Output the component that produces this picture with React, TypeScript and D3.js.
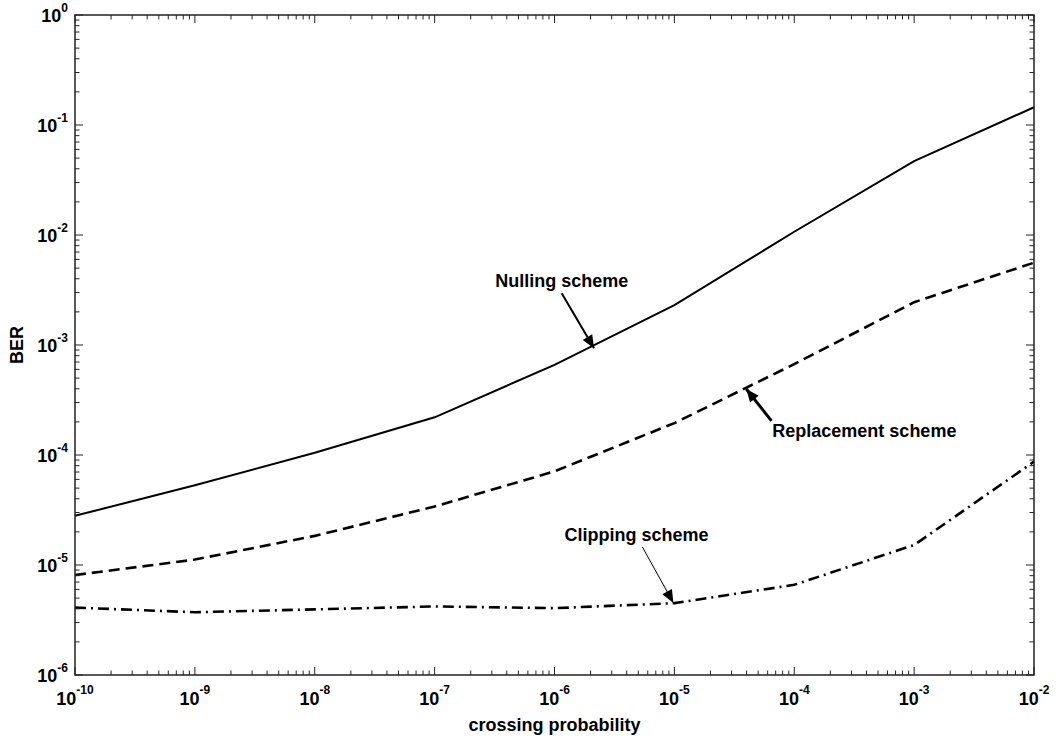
import React from "react";
import * as d3 from "d3";

// crossing probability (x) and BER for each scheme
const crossingProb = [1e-10, 1e-9, 1e-8, 1e-7, 1e-6, 1e-5, 1e-4, 1e-3, 1e-2];
const nulling = [2.8e-5, 5.3e-5, 1.05e-4, 2.2e-4, 6.6e-4, 2.3e-3, 1.07e-2, 4.7e-2, 1.45e-1];
const replacement = [8.1e-6, 1.12e-5, 1.84e-5, 3.4e-5, 7.1e-5, 1.95e-4, 6.7e-4, 2.45e-3, 5.6e-3];
const clipping = [4.1e-6, 3.72e-6, 3.95e-6, 4.2e-6, 4.05e-6, 4.5e-6, 6.6e-6, 1.52e-5, 8.7e-5];

const xExps = [-10, -9, -8, -7, -6, -5, -4, -3, -2];
const yExps = [0, -1, -2, -3, -4, -5, -6];

// annotations, positions given as log10 exponents
const notes = [
  { label: "Nulling scheme", anchor: "middle", tx: -5.94, ty: -2.47, fx: -5.94, fy: -2.53, px: -5.67, py: -3.03, w: 2 },
  { label: "Replacement scheme", anchor: "start", tx: -4.183, ty: -3.836, fx: -4.19, fy: -3.69, px: -4.4, py: -3.4, w: 3 },
  { label: "Clipping scheme", anchor: "start", tx: -5.917, ty: -4.782, fx: -5.267, fy: -4.836, px: -5.008, py: -5.345, w: 1 },
];

const W = 1059;
const H = 742;
const left = 75, right = 1034, top = 15, bottom = 675;
const font = "'Liberation Sans', Arial, sans-serif";

const App = () => {
  const x = d3.scaleLog().domain([1e-10, 1e-2]).range([left, right]);
  const y = d3.scaleLog().domain([1e-6, 1]).range([bottom, top]);

  const line = (vals: number[]) =>
    d3
      .line<number>()
      .x((d, i) => x(crossingProb[i]))
      .y(d => y(d))(vals) || "";

  const minorX: number[] = [];
  xExps.slice(0, -1).forEach(e => {
    for (let k = 2; k < 10; k++) minorX.push(k * Math.pow(10, e));
  });
  const minorY: number[] = [];
  yExps.slice(1).forEach(e => {
    for (let k = 2; k < 10; k++) minorY.push(k * Math.pow(10, e));
  });

  const majLen = 8, minLen = 4.5;

  const arrowHead = (fx: number, fy: number, tx: number, ty: number) => {
    const a = Math.atan2(ty - fy, tx - fx);
    const L = 13, hw = 5.5;
    const bx = tx - L * Math.cos(a), by = ty - L * Math.sin(a);
    const nx = -Math.sin(a), ny = Math.cos(a);
    return `M${tx},${ty}L${bx + nx * hw},${by + ny * hw}L${bx - nx * hw},${by - ny * hw}Z`;
  };

  return (
    <svg width={W} height={H} style={{ position: "absolute", left: 0, top: 0, background: "#fff" }}>
      <rect x={0} y={0} width={W} height={H} fill="#fff" />

      {/* series */}
      <path d={line(nulling)} fill="none" stroke="#000" strokeWidth={2} />
      <path d={line(replacement)} fill="none" stroke="#000" strokeWidth={2.6} strokeDasharray="11,6" />
      <path d={line(clipping)} fill="none" stroke="#000" strokeWidth={2.6} strokeDasharray="11,5,2,5" />

      {/* annotations */}
      {notes.map(n => {
        const fx = x(Math.pow(10, n.fx)), fy = y(Math.pow(10, n.fy));
        const px = x(Math.pow(10, n.px)), py = y(Math.pow(10, n.py));
        return (
          <g key={n.label}>
            <line x1={fx} y1={fy} x2={px} y2={py} stroke="#000" strokeWidth={n.w} />
            <path d={arrowHead(fx, fy, px, py)} fill="#000" />
            <text
              x={x(Math.pow(10, n.tx))}
              y={y(Math.pow(10, n.ty))}
              textAnchor={n.anchor}
              fontFamily={font}
              fontWeight="bold"
              fontSize={18}
            >
              {n.label}
            </text>
          </g>
        );
      })}

      {/* axes box */}
      <rect x={left} y={top} width={right - left} height={bottom - top} fill="none" stroke="#222" strokeWidth={1.5} />

      {/* x ticks */}
      {xExps.map(e => {
        const px = x(Math.pow(10, e));
        return (
          <g key={"xt" + e}>
            <line x1={px} x2={px} y1={bottom} y2={bottom - majLen} stroke="#222" />
            <line x1={px} x2={px} y1={top} y2={top + majLen} stroke="#222" />
            <text x={px} y={705} textAnchor="middle" fontFamily={font} fontWeight="bold" fontSize={18}>
              10<tspan dy={-11} fontSize={12}>{e}</tspan>
            </text>
          </g>
        );
      })}
      {minorX.map((v, i) => (
        <g key={"xm" + i}>
          <line x1={x(v)} x2={x(v)} y1={bottom} y2={bottom - minLen} stroke="#222" />
          <line x1={x(v)} x2={x(v)} y1={top} y2={top + minLen} stroke="#222" />
        </g>
      ))}

      {/* y ticks */}
      {yExps.map(e => {
        const py = y(Math.pow(10, e));
        return (
          <g key={"yt" + e}>
            <line x1={left} x2={left + majLen} y1={py} y2={py} stroke="#222" />
            <line x1={right} x2={right - majLen} y1={py} y2={py} stroke="#222" />
            <text x={68} y={py + 7} textAnchor="end" fontFamily={font} fontWeight="bold" fontSize={18}>
              10<tspan dy={-10} fontSize={12}>{e}</tspan>
            </text>
          </g>
        );
      })}
      {minorY.map((v, i) => (
        <g key={"ym" + i}>
          <line x1={left} x2={left + minLen} y1={y(v)} y2={y(v)} stroke="#222" />
          <line x1={right} x2={right - minLen} y1={y(v)} y2={y(v)} stroke="#222" />
        </g>
      ))}

      {/* axis titles */}
      <text x={(left + right) / 2} y={731} textAnchor="middle" fontFamily={font} fontWeight="bold" fontSize={18}>
        crossing probability
      </text>
      <text
        transform={`translate(23,${(top + bottom) / 2}) rotate(-90)`}
        textAnchor="middle"
        fontFamily={font}
        fontWeight="bold"
        fontSize={18}
      >
        BER
      </text>
    </svg>
  );
};

export default App;
